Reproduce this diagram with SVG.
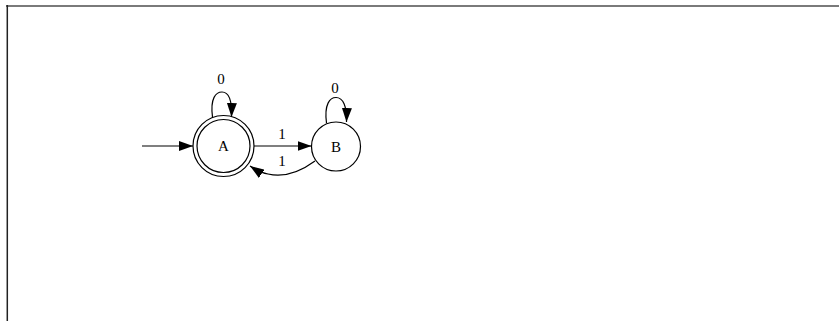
<svg xmlns="http://www.w3.org/2000/svg" width="839" height="321" viewBox="0 0 839 321">
<style>
.n{fill:none;stroke:#000;stroke-width:1.2}
.e{fill:none;stroke:#000;stroke-width:1.2}
.t{font-family:"Liberation Serif","Times New Roman",serif;font-size:15px;fill:#000;text-anchor:middle}
</style>
<defs>
<marker id="ah2" viewBox="0 0 14 10" refX="14" refY="5" markerWidth="14" markerHeight="10" markerUnits="userSpaceOnUse" orient="auto">
<path d="M0,0 L14,5 L0,10 Z" fill="#000"/>
</marker>
</defs>
<rect width="839" height="321" fill="#fff"/>
<line x1="6" y1="6" x2="839" y2="6" stroke="#7a7a7a" stroke-width="2"/>
<line x1="7.3" y1="5" x2="7.3" y2="321" stroke="#222" stroke-width="1.5"/>
<g id="edges">
<path class="e" d="M142,146 L193,146" marker-end="url(#ah2)"/>
<path class="e" d="M254,146 L311.5,146" marker-end="url(#ah2)"/>
<path class="e" d="M315,161 C300,172 285,178 268,174 C262,173 256,170 250,166" marker-end="url(#ah2)"/>
<path class="e" d="M212.5,117 C210,98 216,92 222,92 C229,92 232,100 231.5,117" marker-end="url(#ah2)"/>
<path class="e" d="M326.5,123 C324,104 330,97.5 336,97.5 C343,97.5 347,106 346.5,122" marker-end="url(#ah2)"/>
</g>
<g id="labels">
<text class="t" x="221" y="84">0</text>
<text class="t" x="335" y="93">0</text>
<text class="t" x="282" y="139">1</text>
<text class="t" x="282" y="166">1</text>
</g>
<g id="A">
<circle class="n" cx="223.5" cy="146" r="30.5"/>
<circle class="n" cx="223.5" cy="146" r="26.5"/>
<text class="t" x="223.5" y="151">A</text>
</g>
<g id="B">
<circle class="n" cx="336" cy="146.5" r="24.5"/>
<text class="t" x="336" y="151.5">B</text>
</g>
</svg>
